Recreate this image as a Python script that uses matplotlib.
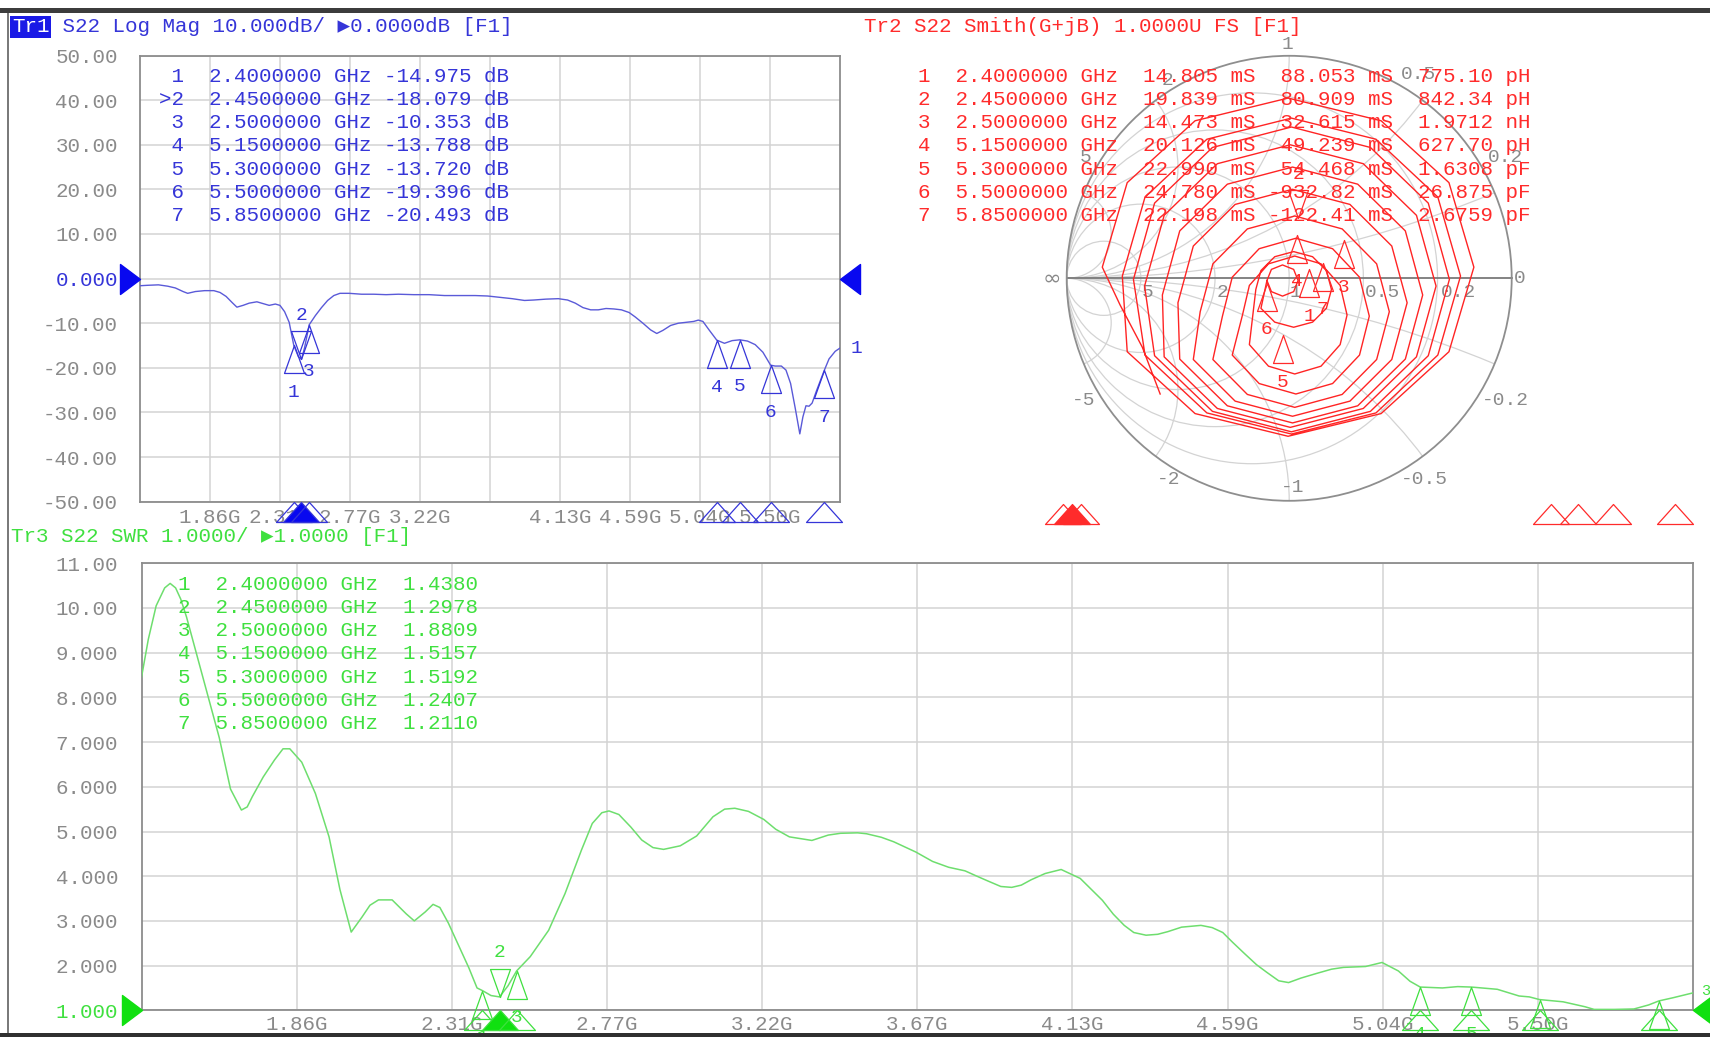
import numpy as np
import matplotlib
matplotlib.use("Agg")
import matplotlib.pyplot as plt
from matplotlib.path import Path
from matplotlib.patches import Circle, Rectangle

# ------------------------------------------------------------------ data
f_start, f_stop = 1.4, 5.95
x_tick_freqs = [1.855, 2.31, 2.765, 3.22, 3.675, 4.13, 4.585, 5.04, 5.495]
x_labels_tr3 = ["1.86G", "2.31G", "2.77G", "3.22G", "3.67G", "4.13G", "4.59G", "5.04G", "5.50G"]
x_labels_tr1 = ["1.86G", "2.31G", "2.77G", "3.22G", "", "4.13G", "4.59G", "5.04G", "5.50G"]

tr1_yticks = [50, 40, 30, 20, 10, 0, -10, -20, -30, -40, -50]
tr1_ylabels = ["50.00", "40.00", "30.00", "20.00", "10.00", "0.000",
               "-10.00", "-20.00", "-30.00", "-40.00", "-50.00"]
tr3_yticks = [11, 10, 9, 8, 7, 6, 5, 4, 3, 2, 1]
tr3_ylabels = ["11.00", "10.00", "9.000", "8.000", "7.000", "6.000",
               "5.000", "4.000", "3.000", "2.000", "1.000"]

marker_ids = [1, 2, 3, 4, 5, 6, 7]
active_marker = 2
marker_freqs = [2.40, 2.45, 2.50, 5.15, 5.30, 5.50, 5.85]
marker_logmag = [-14.975, -18.079, -10.353, -13.788, -13.720, -19.396, -20.493]
marker_swr = [1.4380, 1.2978, 1.8809, 1.5157, 1.5192, 1.2407, 1.2110]
smith_G = ["14.805", "19.839", "14.473", "20.126", "22.990", "24.780", "22.198"]
smith_B = ["88.053", "80.909", "32.615", "49.239", "54.468", "-932.82", "-122.41"]
smith_LC = ["775.10 pH", "842.34 pH", "1.9712 nH", "627.70 pH", "1.6308 pF", "26.875 pF", "2.6759 pF"]
smith_marker_re = [0.09, 0.04, 0.245, 0.035, -0.03, -0.10, 0.15]
smith_marker_im = [0.04, 0.27, 0.17, 0.195, -0.255, -0.02, 0.07]

# Tr1: S22 log magnitude (GHz, dB)
tr1_freq = [1.40, 1.45, 1.52, 1.58, 1.63, 1.68, 1.71, 1.76, 1.82, 1.88, 1.92, 1.96, 2.00, 2.03,
            2.07, 2.11, 2.16, 2.20, 2.24, 2.28, 2.31, 2.34, 2.37, 2.40, 2.43, 2.45, 2.47, 2.50,
            2.54, 2.58, 2.62, 2.66, 2.70, 2.76, 2.84, 2.92, 3.00, 3.08, 3.18, 3.28, 3.38, 3.48,
            3.58, 3.66, 3.74, 3.82, 3.90, 3.96, 4.04, 4.12, 4.18, 4.23, 4.28, 4.33, 4.38, 4.43,
            4.48, 4.53, 4.58, 4.62, 4.67, 4.72, 4.76, 4.80, 4.85, 4.90, 4.95, 5.00, 5.03, 5.06,
            5.10, 5.15, 5.20, 5.25, 5.30, 5.35, 5.40, 5.45, 5.50, 5.53, 5.57, 5.60, 5.63, 5.66,
            5.69, 5.71, 5.73, 5.75, 5.77, 5.80, 5.85, 5.88, 5.92, 5.95]
tr1_db = [-1.6, -1.5, -1.4, -1.7, -2.1, -2.9, -3.3, -2.9, -2.7, -2.7, -3.1, -4.0, -5.4, -6.4,
          -6.0, -5.5, -5.2, -5.6, -6.0, -5.7, -6.0, -7.4, -9.8, -14.98, -17.5, -18.08, -15.5, -10.35,
          -8.3, -6.5, -4.9, -3.8, -3.3, -3.3, -3.5, -3.5, -3.6, -3.5, -3.6, -3.6, -3.8, -3.8,
          -3.8, -3.9, -4.2, -4.5, -4.9, -4.8, -4.6, -4.5, -4.8, -5.5, -6.5, -7.0, -7.0, -6.7,
          -6.8, -7.0, -7.6, -8.6, -10.0, -11.5, -12.3, -11.6, -10.5, -10.0, -9.8, -9.6, -9.3, -9.6,
          -11.5, -13.79, -14.5, -13.9, -13.72, -14.0, -14.8, -16.5, -19.40, -19.6, -19.6, -20.5, -23.5, -29.0,
          -34.8, -31.0, -28.5, -28.6, -27.9, -25.0, -20.49, -18.0, -16.3, -15.6]

# Tr3: S22 SWR (GHz, ratio)
tr3_freq = [1.400, 1.420, 1.443, 1.468, 1.484, 1.500, 1.515, 1.532, 1.564, 1.596, 1.628, 1.661,
            1.693, 1.710, 1.725, 1.757, 1.790, 1.815, 1.835, 1.870, 1.910, 1.950, 1.982, 2.015,
            2.047, 2.070, 2.095, 2.135, 2.176, 2.200, 2.232, 2.255, 2.275, 2.300, 2.330, 2.360,
            2.384, 2.400, 2.425, 2.450, 2.475, 2.500, 2.540, 2.594, 2.642, 2.690, 2.722, 2.750,
            2.771, 2.800, 2.835, 2.867, 2.900, 2.931, 2.980, 3.028, 3.076, 3.110, 3.140, 3.180,
            3.225, 3.260, 3.300, 3.366, 3.414, 3.450, 3.500, 3.526, 3.570, 3.606, 3.671, 3.720,
            3.767, 3.815, 3.850, 3.880, 3.920, 3.952, 3.980, 4.009, 4.050, 4.097, 4.153, 4.218,
            4.250, 4.282, 4.310, 4.346, 4.380, 4.410, 4.450, 4.507, 4.540, 4.571, 4.600, 4.636,
            4.670, 4.700, 4.735, 4.764, 4.800, 4.844, 4.890, 4.925, 4.990, 5.038, 5.086, 5.120,
            5.150, 5.215, 5.260, 5.300, 5.376, 5.440, 5.470, 5.500, 5.569, 5.633, 5.660, 5.720,
            5.777, 5.820, 5.850, 5.891, 5.950]
tr3_swr = [8.45, 9.30, 10.05, 10.45, 10.55, 10.45, 10.20, 9.80, 8.90, 8.00, 7.10, 5.95,
           5.48, 5.55, 5.78, 6.22, 6.60, 6.85, 6.85, 6.55, 5.85, 4.88, 3.70, 2.75,
           3.09, 3.35, 3.47, 3.47, 3.16, 3.00, 3.20, 3.37, 3.30, 2.95, 2.45, 1.95,
           1.50, 1.44, 1.33, 1.30, 1.55, 1.88, 2.20, 2.79, 3.61, 4.58, 5.18, 5.42,
           5.46, 5.38, 5.10, 4.81, 4.64, 4.60, 4.68, 4.90, 5.33, 5.50, 5.52, 5.45,
           5.27, 5.05, 4.88, 4.80, 4.92, 4.96, 4.97, 4.95, 4.87, 4.77, 4.54, 4.33,
           4.20, 4.12, 4.00, 3.90, 3.77, 3.75, 3.80, 3.92, 4.06, 4.15, 3.95, 3.46,
           3.15, 2.90, 2.74, 2.68, 2.70, 2.76, 2.86, 2.90, 2.85, 2.74, 2.52, 2.26,
           2.02, 1.85, 1.66, 1.62, 1.72, 1.82, 1.92, 1.96, 1.98, 2.07, 1.88, 1.65,
           1.52, 1.50, 1.53, 1.52, 1.47, 1.32, 1.30, 1.24, 1.19, 1.08, 1.02, 1.02,
           1.03, 1.12, 1.21, 1.28, 1.39]

# Tr2: S22 on the admittance Smith chart (reflection coefficient, real / imag)
smith_re = [
    -0.58, -0.66, -0.76,
    -0.84, -0.728, -0.423, -0.005, 0.413, 0.718, 0.83, 0.718, 0.413, -0.005, -0.423, -0.728,
    -0.75, -0.648, -0.37, 0.01, 0.39, 0.668, 0.77, 0.668, 0.39, 0.01, -0.37, -0.648,
    -0.70, -0.605, -0.345, 0.01, 0.365, 0.625, 0.72, 0.625, 0.365, 0.01, -0.345, -0.605,
    -0.65, -0.562, -0.323, 0.005, 0.333, 0.572, 0.66, 0.572, 0.333, 0.005, -0.323, -0.562,
    -0.57, -0.492, -0.278, 0.015, 0.308, 0.522, 0.60, 0.522, 0.308, 0.015, -0.278, -0.492,
    -0.50, -0.431, -0.243, 0.015, 0.273, 0.461, 0.53, 0.461, 0.273, 0.015, -0.243, -0.431,
    -0.40, -0.343, -0.188, 0.025, 0.238, 0.393, 0.45, 0.393, 0.238, 0.025, -0.188, -0.343,
    -0.30, -0.256, -0.135, 0.03, 0.195, 0.316, 0.36, 0.316, 0.195, 0.03, -0.135, -0.256,
    -0.21, -0.179, -0.093, 0.025, 0.143, 0.229, 0.26, 0.229, 0.143, 0.025, -0.093, -0.179,
    -0.15, -0.127, -0.065, 0.02, 0.105, 0.167, 0.19, 0.167, 0.105, 0.02, -0.065, -0.127,
    -0.10, -0.08, -0.03, 0.02, 0.04, 0.02, -0.03, -0.08, -0.10,
]
smith_im = [
    -0.52, -0.31, -0.12,
    0.05, 0.43, 0.708, 0.81, 0.708, 0.43, 0.05, -0.33, -0.608, -0.71, -0.608, -0.33,
    0.01, 0.365, 0.625, 0.72, 0.625, 0.365, 0.01, -0.345, -0.605, -0.70, -0.605, -0.345,
    -0.005, 0.338, 0.588, 0.68, 0.588, 0.338, -0.005, -0.348, -0.598, -0.69, -0.598, -0.348,
    -0.035, 0.283, 0.515, 0.60, 0.515, 0.283, -0.035, -0.353, -0.585, -0.67, -0.585, -0.353,
    -0.075, 0.213, 0.423, 0.50, 0.423, 0.213, -0.075, -0.363, -0.573, -0.65, -0.573, -0.363,
    -0.11, 0.145, 0.332, 0.40, 0.332, 0.145, -0.11, -0.365, -0.552, -0.62, -0.552, -0.365,
    -0.15, 0.065, 0.222, 0.28, 0.222, 0.065, -0.15, -0.365, -0.522, -0.58, -0.522, -0.365,
    -0.17, 0.005, 0.133, 0.18, 0.133, 0.005, -0.17, -0.345, -0.473, -0.52, -0.473, -0.345,
    -0.165, -0.032, 0.065, 0.10, 0.065, -0.032, -0.165, -0.298, -0.395, -0.43, -0.395, -0.298,
    -0.05, 0.035, 0.097, 0.12, 0.097, 0.035, -0.05, -0.135, -0.197, -0.22, -0.197, -0.135,
    -0.01, 0.04, 0.06, 0.04, -0.01, -0.06, -0.08, -0.06, -0.01,
]

# smith grid values
smith_g_values = [0.2, 0.5, 1, 2, 5]
smith_b_values = [0.2, 0.5, 1, 2, 5, -0.2, -0.5, -1, -2, -5]
smith_labels = ["∞", "0", "5", "2", "1", "0.5", "0.2", "1", "-1", "-2", "-5",
                "-0.5", "-0.2", "5", "2", "0.5", "0.2"]
smith_label_pos = [(-1.066, -0.003), (1.037, 0.0), (-0.635, -0.062), (-0.302, -0.062),
                   (0.03, -0.062), (0.421, -0.062), (0.759, -0.062), (-0.01, 1.049),
                   (0.017, -0.938), (-0.54, -0.906), (-0.922, -0.547), (0.606, -0.906),
                   (0.97, -0.547), (-0.913, 0.541), (-0.549, 0.891), (0.579, 0.918),
                   (0.97, 0.545)]

# ------------------------------------------------------------------ style
W, H, DPI = 1710, 1037, 100
plt.rcParams["font.family"] = ["Liberation Mono", "DejaVu Sans Mono", "DejaVu Sans"]
FS = 15
BLUE_TXT, BLUE_TRACE, BLUE_FILL = "#3535d8", "#5a5ad8", "#0808f0"
RED_TXT, RED_TRACE = "#ff2b2b", "#ff2424"
GREEN_TXT, GREEN_TRACE, GREEN_FILL = "#3fe03f", "#6ede6e", "#10e010"
GRAY_TXT, GRID, FRAME = "#8a8a8a", "#d3d3d3", "#8c8c8c"

TRI_UP = Path([(0, 0), (-0.357, -1), (0.357, -1), (0, 0)],
              [Path.MOVETO, Path.LINETO, Path.LINETO, Path.CLOSEPOLY])
TRI_DN = Path([(0, 0), (-0.357, 1), (0.357, 1), (0, 0)],
              [Path.MOVETO, Path.LINETO, Path.LINETO, Path.CLOSEPOLY])
STIM = Path([(0, 0), (-0.9, -1), (0.9, -1), (0, 0)],
            [Path.MOVETO, Path.LINETO, Path.LINETO, Path.CLOSEPOLY])
REF_R = Path([(0, 0), (-1, 0.75), (-1, -0.75), (0, 0)],
             [Path.MOVETO, Path.LINETO, Path.LINETO, Path.CLOSEPOLY])
REF_L = Path([(0, 0), (1, 0.75), (1, -0.75), (0, 0)],
             [Path.MOVETO, Path.LINETO, Path.LINETO, Path.CLOSEPOLY])
PX = 0.72  # points per pixel at 100 dpi

fig = plt.figure(figsize=(W / DPI, H / DPI), dpi=DPI)
fig.patch.set_facecolor("white")


def rect(x0, y0, x1, y1):
    return [x0 / W, 1 - y1 / H, (x1 - x0) / W, (y1 - y0) / H]


def ftext(x, y, s, **kw):
    kw.setdefault("fontsize", FS)
    kw.setdefault("ha", "left")
    kw.setdefault("va", "center")
    return fig.text(x / W, 1 - y / H, s, **kw)


def style_rect_axes(ax, yticks, ylabels, xlabels, ypad, xpad, ref_label, ref_color):
    ax.set_xlim(f_start, f_stop)
    ax.set_xticks(x_tick_freqs, xlabels)
    ax.set_yticks(yticks, ylabels)
    ax.tick_params(length=0, labelsize=FS, labelcolor=GRAY_TXT)
    ax.tick_params(axis="y", pad=ypad)
    ax.tick_params(axis="x", pad=xpad)
    ax.grid(True, color=GRID, lw=1.1)
    ax.set_axisbelow(True)
    for sp in ax.spines.values():
        sp.set_color(FRAME)
        sp.set_linewidth(1.3)
    for t in ax.get_yticklabels():
        if t.get_text() == ref_label:
            t.set_color(ref_color)


def draw_markers(ax, values, color, stim_y, fill):
    for mid, f, v in zip(marker_ids, marker_freqs, values):
        if mid == active_marker:
            ax.plot([f], [v], marker=TRI_DN, ms=40.3, mfc="none", mec=color, mew=0.9,
                    ls="none", clip_on=False, zorder=6)
            off = 44 * PX
        else:
            ax.plot([f], [v], marker=TRI_UP, ms=40.3, mfc="none", mec=color, mew=0.9,
                    ls="none", clip_on=False, zorder=6)
            off = -47 * PX
        ax.annotate(str(mid), (f, v), xytext=(0, off), textcoords="offset points",
                    ha="center", va="center", color=color, fontsize=14,
                    annotation_clip=False, zorder=6)
        ax.plot([f], [stim_y], marker=STIM, ms=28.8,
                mfc=fill if mid == active_marker else "none", mec=color, mew=0.9,
                ls="none", clip_on=False, zorder=7)


# ------------------------------------------------------------------ Tr1 Log Mag
ax1 = fig.add_axes(rect(140, 55.5, 839.8, 501.7))
ax1.plot(tr1_freq, tr1_db, color=BLUE_TRACE, lw=1.0, zorder=4)
ax1.set_ylim(-50, 50)
style_rect_axes(ax1, tr1_yticks, tr1_ylabels, x_labels_tr1, 22 * PX, 6 * PX, "0.000", BLUE_TXT)
draw_markers(ax1, marker_logmag, BLUE_TXT, -50, BLUE_FILL)
ax1.plot([f_start], [0], marker=REF_R, ms=28.8, color=BLUE_FILL, ls="none", clip_on=False, zorder=7)
ax1.plot([f_stop], [0], marker=REF_L, ms=28.8, color=BLUE_FILL, ls="none", clip_on=False, zorder=7)
ax1.annotate("1", (tr1_freq[-1], tr1_db[-1]), xytext=(11 * PX, 0), textcoords="offset points",
             ha="left", va="center", color=BLUE_TXT, fontsize=14, annotation_clip=False)

ftext(12, 27, "Tr1", color="white",
      bbox=dict(boxstyle="square,pad=0.08", fc="#1a1ae6", ec="none"))
ftext(49.5, 27, " S22 Log Mag 10.000dB/ ▶0.0000dB [F1]", color=BLUE_TXT)
for i, mid in enumerate(marker_ids):
    pre = ">" if mid == active_marker else " "
    ftext(158.5, 76 + 23.33 * i,
          f"{pre}{mid}  {marker_freqs[i]:.7f} GHz {marker_logmag[i]:.3f} dB", color=BLUE_TXT)

# ------------------------------------------------------------------ Tr3 SWR
ax3 = fig.add_axes(rect(141.5, 563.3, 1693, 1010.3))
ax3.plot(tr3_freq, tr3_swr, color=GREEN_TRACE, lw=1.1, zorder=4)
ax3.set_ylim(1, 11)
style_rect_axes(ax3, tr3_yticks, tr3_ylabels, x_labels_tr3, 23.5 * PX, 5 * PX, "1.000", GREEN_TXT)
draw_markers(ax3, marker_swr, GREEN_TXT, 1, GREEN_FILL)
ax3.plot([f_start], [1], marker=REF_R, ms=28.8, color=GREEN_FILL, ls="none", clip_on=False, zorder=7)
ax3.plot([f_stop], [1], marker=REF_L, ms=28.8, color=GREEN_FILL, ls="none", clip_on=False, zorder=7)
ax3.annotate("3", (tr3_freq[-1], tr3_swr[-1]), xytext=(8 * PX, 2 * PX), textcoords="offset points",
             ha="left", va="center", color=GREEN_TXT, fontsize=11, annotation_clip=False)

ftext(11, 536.7, "Tr3 S22 SWR 1.0000/ ▶1.0000 [F1]", color=GREEN_TXT)
for i, mid in enumerate(marker_ids):
    ftext(178, 584 + 23.33 * i,
          f"{mid}  {marker_freqs[i]:.7f} GHz  {marker_swr[i]:.4f}", color=GREEN_TXT)

# ------------------------------------------------------------------ Tr2 Smith (G+jB)
cx, cy, R = 1289.2, 278.3, 222.5
half = 1.15 * R
axs = fig.add_axes(rect(cx - half, cy - half, cx + half, cy + half))
axs.set_xlim(-1.15, 1.15)
axs.set_ylim(-1.15, 1.15)
axs.axis("off")
axs.patch.set_visible(False)

unit = Circle((0, 0), 1, fill=False, ec="#8e8e8e", lw=1.3, zorder=3)
axs.add_patch(unit)
for g in smith_g_values:
    axs.add_patch(Circle((-g / (1 + g), 0), 1 / (1 + g), fill=False, ec=GRID, lw=0.9, zorder=1))
for b in smith_b_values:
    c = Circle((-1, 1 / b), 1 / abs(b), fill=False, ec=GRID, lw=0.9, zorder=1)
    axs.add_patch(c)
    c.set_clip_path(unit)
axs.plot([-1, 1], [0, 0], color="#7a7a7a", lw=1.3, zorder=2)
for s, (x, y) in zip(smith_labels, smith_label_pos):
    fam = ["DejaVu Sans"] if s == "∞" else None
    kw = dict(ha="center", va="center", color=GRAY_TXT, fontsize=14)
    if fam:
        kw["family"] = fam
        kw["fontsize"] = 16
    axs.text(x, y, s, **kw)

axs.plot(smith_re, smith_im, color=RED_TRACE, lw=1.0, zorder=4)
for mid, x, y in zip(marker_ids, smith_marker_re, smith_marker_im):
    if mid == active_marker:
        axs.plot([x], [y], marker=TRI_DN, ms=40.3, mfc="none", mec=RED_TXT, mew=0.9, ls="none", zorder=6)
        off = 44 * PX
    else:
        axs.plot([x], [y], marker=TRI_UP, ms=40.3, mfc="none", mec=RED_TXT, mew=0.9, ls="none", zorder=6)
        off = -47 * PX
    axs.annotate(str(mid), (x, y), xytext=(0, off), textcoords="offset points",
                 ha="center", va="center", color=RED_TXT, fontsize=14)

# stimulus marker row for Tr2
ax2s = fig.add_axes(rect(885.6, 494, 1693, 504))
ax2s.set_xlim(f_start, f_stop)
ax2s.set_ylim(0, 1)
ax2s.axis("off")
for mid, f in zip(marker_ids, marker_freqs):
    ax2s.plot([f], [0], marker=STIM, ms=28.8,
              mfc=RED_TXT if mid == active_marker else "none", mec=RED_TXT, mew=0.9,
              ls="none", clip_on=False)

ftext(864, 26.7, "Tr2 S22 Smith(G+jB) 1.0000U FS [F1]", color=RED_TXT)
for i, mid in enumerate(marker_ids):
    ftext(918, 76 + 23.33 * i,
          f"{mid}  {marker_freqs[i]:.7f} GHz  {smith_G[i]} mS {smith_B[i]:>7} mS  {smith_LC[i]}",
          color=RED_TXT, zorder=8)

# ------------------------------------------------------------------ window frame
fig.patches.append(Rectangle((0, 1 - 12.5 / H), 1, 4.5 / H, transform=fig.transFigure,
                             fc="#3c3c3c", ec="none", zorder=10))
fig.patches.append(Rectangle((0, 0), 1, 4 / H, transform=fig.transFigure,
                             fc="#303030", ec="none", zorder=10))
fig.patches.append(Rectangle((7 / W, 4 / H), 1.5 / W, 1 - 16.5 / H, transform=fig.transFigure,
                             fc="#7a7a7a", ec="none", zorder=10))

fig.savefig("out.png", dpi=DPI, facecolor="white")
